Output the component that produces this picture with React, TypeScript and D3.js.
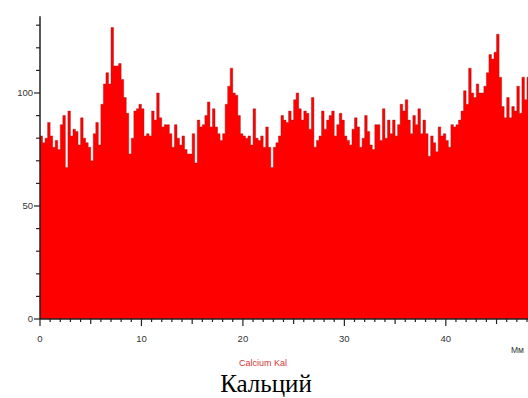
import React, { useEffect, useRef } from "react";
import * as d3 from "d3";

// calcium profile, one value per 0.25 mm bin
const binWidth = 0.25;
const calcium = [
  81, 78, 80, 87, 81, 76, 79, 75, 86, 90, 67, 92, 81, 84, 83, 77, 89, 80, 78, 76,
  70, 82, 87, 77, 95, 104, 109, 104, 129, 112, 112, 113, 106, 98, 91, 73, 80, 92,
  93, 95, 93, 81, 82, 81, 92, 88, 100, 89, 85, 86, 86, 82, 76, 86, 80, 77, 81, 75,
  73, 73, 82, 69, 88, 85, 86, 90, 96, 85, 93, 85, 82, 79, 82, 95, 103, 111, 100,
  99, 90, 82, 81, 80, 81, 77, 93, 80, 79, 81, 76, 85, 76, 67, 76, 78, 81, 90, 88,
  87, 92, 88, 97, 100, 93, 88, 92, 91, 84, 98, 76, 79, 81, 92, 84, 88, 90, 92,
  81, 86, 91, 88, 81, 79, 77, 84, 89, 85, 76, 80, 90, 83, 77, 75, 86, 86, 79, 93,
  80, 88, 82, 88, 81, 86, 95, 92, 97, 88, 82, 90, 86, 93, 82, 88, 82, 72,
  81, 78, 74, 85, 81, 82, 79, 76, 86, 85, 86, 88, 92, 101, 95, 111, 100, 98, 104,
  100, 100, 103, 109, 117, 115, 118, 126, 107, 94, 89, 98, 89, 94, 92, 103, 91,
  107, 97, 107,
];
const yLabels = [0, 50, 100];
const xLabels = [0, 10, 20, 30, 40];
const xTitle = "Calcium Kal";
const unitLabel = "Мм";
const caption = "Кальций";

export default function App() {
  const ref = useRef<SVGSVGElement>(null);

  useEffect(() => {
    const svg = d3.select(ref.current);
    svg.selectAll("*").remove();

    const x = d3.scaleLinear().domain([0, 48.1]).range([40, 528]);
    const y = d3.scaleLinear().domain([0, 100]).range([319, 93]);

    const pts = calcium.map((v, i) => [i * binWidth, v] as [number, number]);
    pts.push([calcium.length * binWidth, calcium[calcium.length - 1]]);

    const area = d3
      .area<[number, number]>()
      .curve(d3.curveStepAfter)
      .x((d) => x(d[0]))
      .y0(y(0))
      .y1((d) => y(d[1]));

    const line = d3
      .line<[number, number]>()
      .curve(d3.curveStepAfter)
      .x((d) => x(d[0]))
      .y((d) => y(d[1]));

    svg.append("path").datum(pts).attr("fill", "#ff0000").attr("d", area);
    svg
      .append("path")
      .datum(pts)
      .attr("fill", "none")
      .attr("stroke", "#a01818")
      .attr("stroke-opacity", 0.55)
      .attr("stroke-width", 0.8)
      .attr("d", line);

    const axisColor = "#222";
    const font = "Arial, Liberation Sans, sans-serif";

    // y axis
    const gy = svg.append("g");
    gy.append("line")
      .attr("x1", x(0)).attr("x2", x(0))
      .attr("y1", y(134)).attr("y2", y(0))
      .attr("stroke", axisColor).attr("stroke-width", 1.5);
    d3.range(0, 131, 10).forEach((v) => {
      const major = v % 50 === 0;
      gy.append("line")
        .attr("x1", x(0) - (major ? 6 : 4)).attr("x2", x(0))
        .attr("y1", y(v)).attr("y2", y(v))
        .attr("stroke", axisColor).attr("stroke-width", 1.2);
    });
    yLabels.forEach((v) => {
      gy.append("text")
        .attr("x", x(0) - 7).attr("y", y(v)).attr("dy", "0.35em")
        .attr("text-anchor", "end")
        .attr("font-family", font)
        .attr("font-size", 9.5).attr("fill", "#333")
        .text(v);
    });

    // x axis
    const gx = svg.append("g");
    gx.append("line")
      .attr("x1", x(0)).attr("x2", 528)
      .attr("y1", y(0)).attr("y2", y(0))
      .attr("stroke", axisColor).attr("stroke-width", 1.5);
    d3.range(0, 49, 1).forEach((v) => {
      const len = v % 10 === 0 ? 7 : v % 5 === 0 ? 5 : 3;
      gx.append("line")
        .attr("x1", x(v)).attr("x2", x(v))
        .attr("y1", y(0)).attr("y2", y(0) + len)
        .attr("stroke", axisColor).attr("stroke-width", 1.2);
    });
    xLabels.forEach((v) => {
      gx.append("text")
        .attr("x", x(v)).attr("y", 342)
        .attr("text-anchor", "middle")
        .attr("font-family", font)
        .attr("font-size", 9.5).attr("fill", "#333")
        .text(v);
    });
    gx.append("text")
      .attr("x", 511).attr("y", 353)
      .attr("font-family", font)
      .attr("font-size", 8.5).attr("fill", "#333")
      .text(unitLabel);

    svg.append("text")
      .attr("x", 263).attr("y", 366)
      .attr("text-anchor", "middle")
      .attr("font-family", font)
      .attr("font-size", 9).attr("fill", "#d03838")
      .text(xTitle);

    svg.append("text")
      .attr("x", 266).attr("y", 392)
      .attr("text-anchor", "middle")
      .attr("font-family", "Times New Roman, Liberation Serif, serif")
      .attr("font-size", 25).attr("fill", "#000")
      .text(caption);
  }, []);

  return (
    <svg
      ref={ref}
      width={528}
      height={398}
      style={{ position: "absolute", left: 0, top: 0, background: "#fff" }}
    />
  );
}
